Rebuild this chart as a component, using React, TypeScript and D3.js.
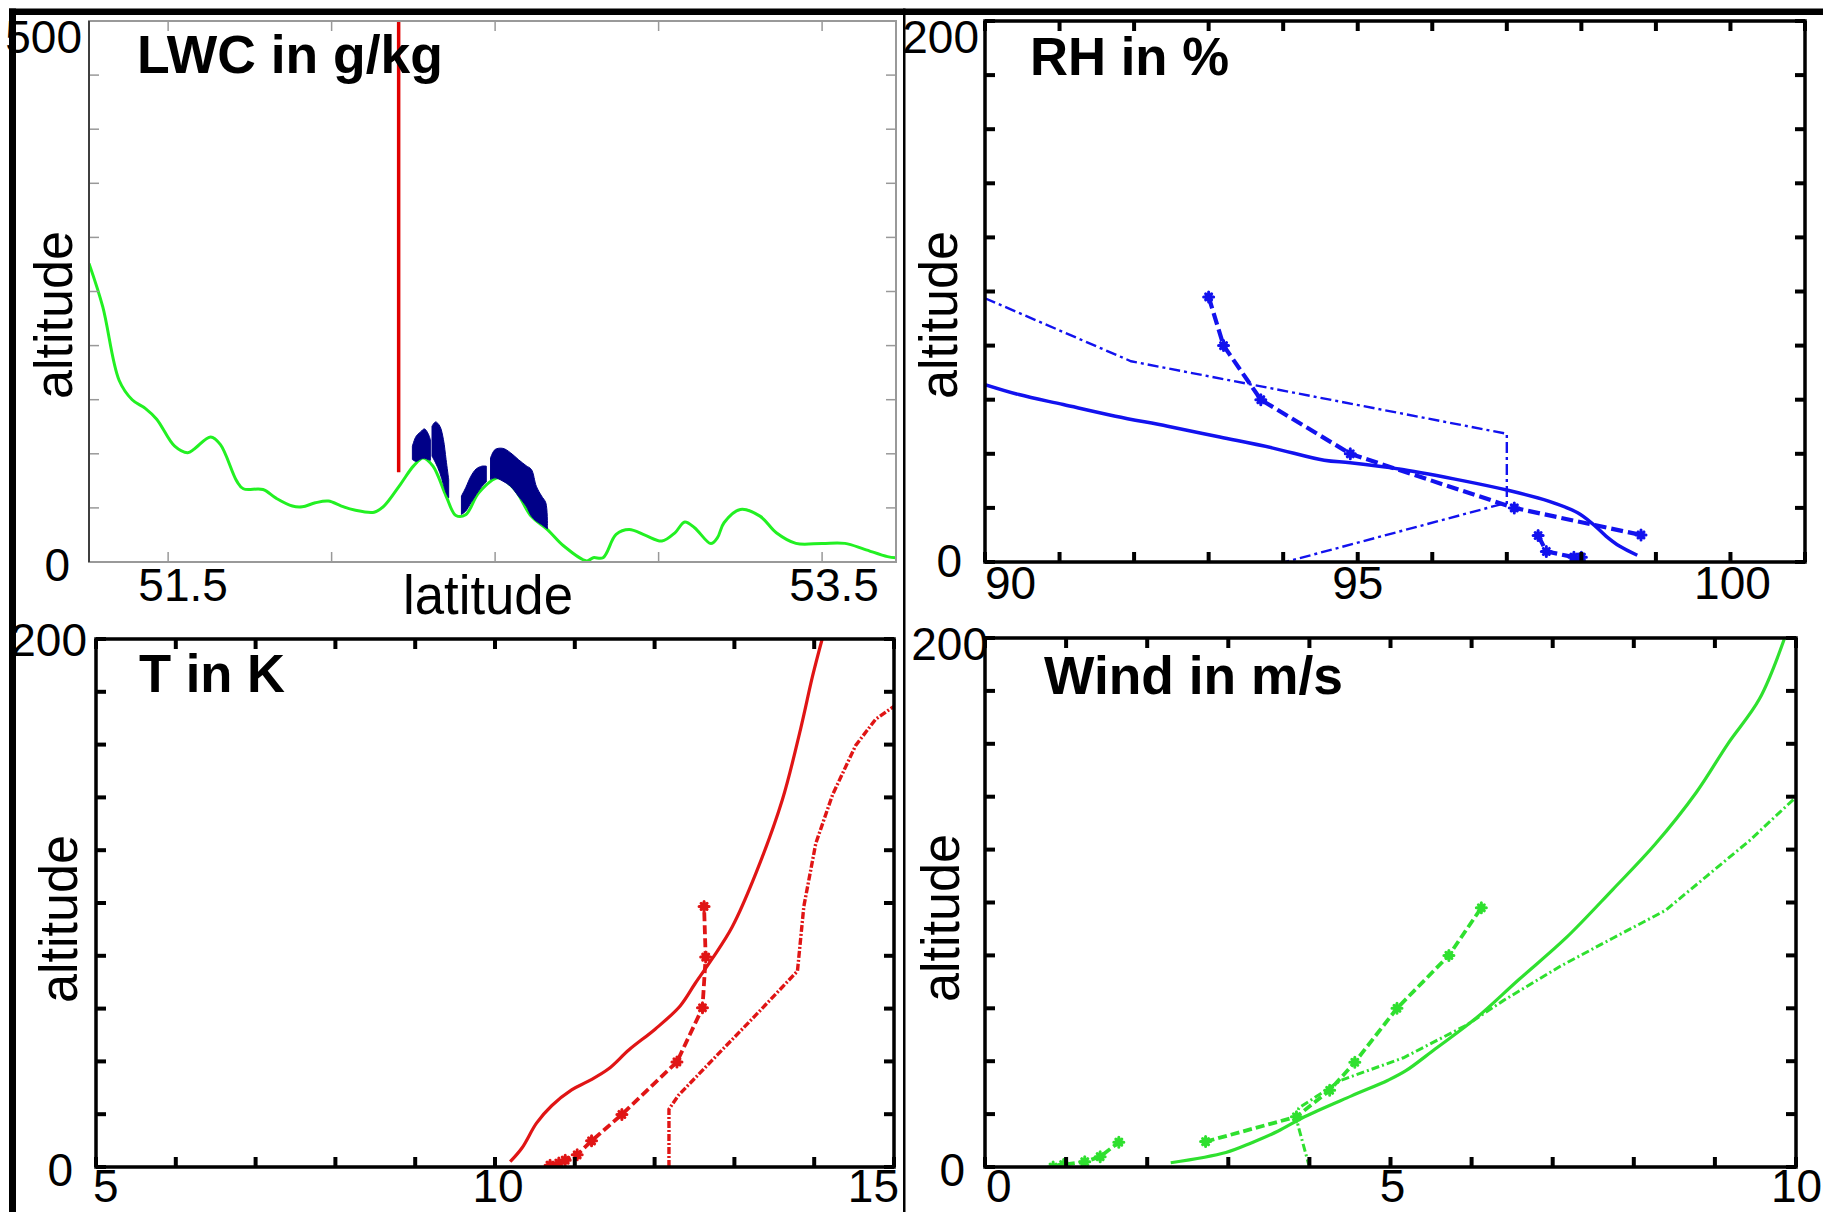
import React from 'react';
import * as d3 from 'd3';

// ---------- Panel 1: LWC cross-section ----------
const latTerrain = [51.258, 51.30, 51.35, 51.39, 51.43, 51.465, 51.52, 51.56, 51.58, 51.63, 51.66, 51.71, 51.73, 51.79, 51.83, 51.88, 51.91, 51.95, 51.99, 52.03, 52.07, 52.13, 52.16, 52.21, 52.25, 52.28, 52.31, 52.35, 52.38, 52.41, 52.45, 52.51, 52.56, 52.61, 52.66, 52.71, 52.78, 52.80, 52.83, 52.87, 52.91, 52.96, 53.01, 53.05, 53.08, 53.11, 53.16, 53.18, 53.20, 53.25, 53.31, 53.36, 53.42, 53.50, 53.57, 53.63, 53.70, 53.726];
const altTerrain = [276, 236, 168, 150, 142, 132, 107, 101, 104.5, 115.6, 108.5, 74.7, 67.7, 67, 59, 51.7, 51, 54.7, 56.3, 51.7, 48, 46, 51.7, 71.6, 88.6, 96.2, 88.6, 61, 43, 43.7, 64, 77.8, 67, 42.4, 30, 14.8, 1, 4, 4, 25.5, 30, 24.6, 19.4, 27, 37, 31.7, 17, 22.5, 36.3, 48.6, 42.4, 27, 17.2, 17.2, 17.2, 11.7, 5, 4];

const cloudLatA = [52.247, 52.258, 52.271, 52.284, 52.295, 52.302];
const cloudBaseA = [94.7, 93, 95, 96, 94.7, 94];
const cloudTopA = [107, 116, 120, 123, 118.7, 113];

const cloudLatB = [52.307, 52.318, 52.331, 52.342, 52.35, 52.358];
const cloudBaseB = [97.8, 91.6, 82.4, 71.6, 64, 59.3];
const cloudTopB = [125.5, 129.5, 125.5, 113, 94.7, 76.3];

const cloudLatC = [52.397, 52.41, 52.426, 52.442, 52.46, 52.473];
const cloudBaseC = [44, 47, 54.7, 62.4, 70, 74];
const cloudTopC = [61, 68.6, 79.3, 86, 88.6, 88.6];

const cloudLatD = [52.486, 52.50, 52.524, 52.547, 52.571, 52.595, 52.611, 52.626, 52.642, 52.655, 52.66];
const cloudBaseD = [76.3, 77.8, 74.7, 70, 61, 51.7, 42.4, 37.8, 34.7, 31.7, 30.7];
const cloudTopD = [96.2, 104, 105, 101, 94.7, 89, 85.5, 70, 61, 54.7, 33];

const redLineLat = 52.205;
const redLineAlt = [83, 500];

const latTicks = [51.5, 52, 52.5, 53, 53.5];
const latLabels = ['51.5', '53.5'];
const lwcAltTicks = [0, 50, 100, 150, 200, 250, 300, 350, 400, 450, 500];

// ---------- Panel 2: RH ----------
const rhSolidX = [90, 90.455, 91.05, 91.75, 92.45, 93.15, 93.85, 94.55, 94.9, 95.6, 96.44, 97.0, 97.56, 97.95, 98.16, 98.33, 98.51, 98.75];
const rhSolidAlt = [65.6, 61.9, 58.2, 53.9, 50.2, 46.2, 42.2, 37.6, 36.7, 34.2, 29.9, 26.6, 22.5, 18.2, 13.9, 9.6, 5.9, 2.5];
const rhDashDotX = [90, 91.96, 97.0, 97.0, 94.03];
const rhDashDotAlt = [97.5, 74.2, 47.4, 21.9, 0];
const rhDashedHighX = [93.0, 93.2, 93.7, 94.9, 97.1, 98.8];
const rhDashedHighAlt = [98, 80, 60, 40, 20, 10];
const rhDashedLowX = [97.42, 97.53, 97.9, 98.0];
const rhDashedLowAlt = [9.8, 3.9, 1.8, 1.8];
const rhTicks = [90, 91, 92, 93, 94, 95, 96, 97, 98, 99, 100, 101];

// ---------- Panel 3: T ----------
const tSolidX = [10.19, 10.34, 10.52, 10.71, 10.96, 11.17, 11.42, 11.68, 12.01, 12.32, 12.51, 12.72, 12.97, 13.27, 13.60, 13.83, 13.98, 14.10];
const tSolidAlt = [2, 7.3, 16.6, 23.2, 29.2, 32.5, 37.1, 44.4, 52.3, 61, 69.6, 78.8, 90.8, 111.3, 139, 166, 186, 200];
const tDashedX = [10.69, 10.80, 10.88, 11.03, 11.21, 11.59, 12.28, 12.60, 12.64, 12.62];
const tDashedAlt = [0.7, 1.5, 2.6, 4.6, 9.9, 19.9, 39.8, 60.3, 79.5, 98.7];
const tDashDotX = [12.18, 12.18, 12.30, 12.72, 13.27, 13.79, 13.87, 14.02, 14.23, 14.52, 14.77, 15.0];
const tDashDotAlt = [0, 21.9, 27.2, 40.4, 57.6, 74.2, 98.7, 122.6, 141, 159.7, 169.6, 174.5];
const tTicks = [5, 6, 7, 8, 9, 10, 11, 12, 13, 14, 15];

// ---------- Panel 4: Wind ----------
const wSolidX = [2.29, 2.97, 3.29, 3.61, 3.94, 4.52, 4.97, 5.19, 5.55, 6.06, 6.58, 7.16, 7.74, 8.26, 8.77, 9.16, 9.55, 9.86];
const wSolidAlt = [1.6, 5.5, 9.2, 13.5, 19, 26.9, 32.8, 36.4, 44.6, 56.4, 70.8, 86.5, 104.9, 121.9, 141.6, 160, 177, 200];
const wDashDotX = [4.0, 3.86, 3.84, 3.87, 4.39, 5.16, 5.94, 6.39, 7.10, 7.74, 8.39, 8.90, 9.42, 9.97];
const wDashDotAlt = [0, 15.7, 19, 22.3, 32.8, 41.3, 53.7, 62.9, 76, 86.5, 97, 110, 123.2, 139];
const wDashedLowX = [0.84, 0.97, 1.23, 1.42, 1.65];
const wDashedLowAlt = [0, 0.9, 2, 3.9, 9.4];
const wDashedHighX = [2.72, 3.84, 4.25, 4.56, 5.08, 5.72, 6.12];
const wDashedHighAlt = [9.6, 19, 29, 39.6, 60, 80, 98];
const wTicks = [0, 1, 2, 3, 4, 5, 6, 7, 8, 9, 10];

const profileAltTicks = [0, 20, 40, 60, 80, 100, 120, 140, 160, 180, 200];

// ---------- scales ----------
const p1x = d3.scaleLinear().domain([51.258, 53.726]).range([89, 896]);
const p1y = d3.scaleLinear().domain([0, 500]).range([562, 21]);
const p2x = d3.scaleLinear().domain([90, 101]).range([985, 1805]);
const p2y = d3.scaleLinear().domain([0, 200]).range([562, 21]);
const p3x = d3.scaleLinear().domain([5, 15]).range([96, 894]);
const p3y = d3.scaleLinear().domain([0, 200]).range([1167, 639]);
const p4x = d3.scaleLinear().domain([0, 10]).range([985, 1796]);
const p4y = d3.scaleLinear().domain([0, 200]).range([1167, 638]);

const FONT = '"Liberation Sans", Arial, Helvetica, sans-serif';
const BLUE = '#1212ee';
const RED = '#e01515';
const GREEN = '#2fe02f';
const TERRAIN = '#22f022';
const NAVY = '#000088';

type XY = [number, number];
const zipXY = (a: number[], b: number[]): XY[] => a.map((v, i) => [v, b[i]] as XY);

function lineFor(xs: d3.ScaleLinear<number, number>, ys: d3.ScaleLinear<number, number>, curve: d3.CurveFactory = d3.curveLinear) {
  return d3.line<XY>().x(d => xs(d[0])).y(d => ys(d[1])).curve(curve);
}

function Frame({ xs, ys, xTicks, yTicks, stroke, width, tickW, len }: any) {
  const [x0, x1] = xs.range();
  const [y0, y1] = ys.range(); // y0 bottom, y1 top
  return (
    <g>
      {xTicks.map((t: number, i: number) => (
        <g key={'x' + i}>
          <line x1={xs(t)} x2={xs(t)} y1={y0} y2={y0 - len} stroke={stroke} strokeWidth={tickW} />
          <line x1={xs(t)} x2={xs(t)} y1={y1} y2={y1 + len} stroke={stroke} strokeWidth={tickW} />
        </g>
      ))}
      {yTicks.map((t: number, i: number) => (
        <g key={'y' + i}>
          <line x1={x0} x2={x0 + len} y1={ys(t)} y2={ys(t)} stroke={stroke} strokeWidth={tickW} />
          <line x1={x1} x2={x1 - len} y1={ys(t)} y2={ys(t)} stroke={stroke} strokeWidth={tickW} />
        </g>
      ))}
      <rect x={x0} y={y1} width={x1 - x0} height={y0 - y1} fill="none" stroke={stroke} strokeWidth={width} />
    </g>
  );
}

function Markers({ pts, xs, ys, color }: any) {
  return (
    <g stroke={color} strokeWidth={3} strokeLinecap="round">
      {pts.map((d: XY, i: number) => {
        const cx = xs(d[0]);
        const cy = ys(d[1]);
        return (
          <path key={i} d={`M${cx - 5},${cy}H${cx + 5}M${cx},${cy - 5}V${cy + 5}M${cx - 3},${cy - 3}L${cx + 3},${cy + 3}M${cx - 3},${cy + 3}L${cx + 3},${cy - 3}`} />
        );
      })}
    </g>
  );
}

function Label({ x, y, text, anchor = 'middle', size = 46, weight = 'normal', len }: any) {
  return (
    <text x={x} y={y} textAnchor={anchor} fontSize={size} fontWeight={weight} fontFamily={FONT} fill="#000"
      {...(len ? { textLength: len, lengthAdjust: 'spacingAndGlyphs' } : {})}>{text}</text>
  );
}

function AltLabel({ x, y }: any) {
  return (
    <text transform={`translate(${x},${y}) rotate(-90)`} textAnchor="middle" fontSize={53} fontFamily={FONT} fill="#000"
      textLength={168} lengthAdjust="spacingAndGlyphs">altitude</text>
  );
}

export default function App() {
  const terrain = zipXY(latTerrain, altTerrain);
  const terrainLine = lineFor(p1x, p1y, d3.curveCatmullRom.alpha(0.5));
  const cloudArea = d3.area<[number, number, number]>()
    .x(d => p1x(d[0])).y0(d => p1y(d[1])).y1(d => p1y(d[2])).curve(d3.curveCatmullRom.alpha(0.5));
  const clouds = [
    [cloudLatA, cloudBaseA, cloudTopA],
    [cloudLatB, cloudBaseB, cloudTopB],
    [cloudLatC, cloudBaseC, cloudTopC],
    [cloudLatD, cloudBaseD, cloudTopD],
  ].map(([la, b, t]) => la.map((v, i) => [v, b[i], t[i]] as [number, number, number]));

  const l2 = lineFor(p2x, p2y);
  const l2c = lineFor(p2x, p2y, d3.curveCatmullRom.alpha(0.5));
  const l3 = lineFor(p3x, p3y);
  const l3c = lineFor(p3x, p3y, d3.curveCatmullRom.alpha(0.5));
  const l4 = lineFor(p4x, p4y);
  const l4c = lineFor(p4x, p4y, d3.curveCatmullRom.alpha(0.5));

  const rhHigh = zipXY(rhDashedHighX, rhDashedHighAlt);
  const rhLow = zipXY(rhDashedLowX, rhDashedLowAlt);
  const tDash = zipXY(tDashedX, tDashedAlt);
  const wLow = zipXY(wDashedLowX, wDashedLowAlt);
  const wHigh = zipXY(wDashedHighX, wDashedHighAlt);

  const clip = (id: string, xs: any, ys: any) => {
    const [x0, x1] = xs.range();
    const [y0, y1] = ys.range();
    return (
      <clipPath id={id}>
        <rect x={x0} y={y1} width={x1 - x0} height={y0 - y1} />
      </clipPath>
    );
  };

  return (
    <svg width={1823} height={1212} viewBox="0 0 1823 1212"
      style={{ position: 'absolute', left: 0, top: 0, background: '#fff', display: 'block' }}>
      <defs>
        {clip('c1', p1x, p1y)}
        {clip('c2', p2x, p2y)}
        {clip('c3', p3x, p3y)}
        {clip('c4', p4x, p4y)}
      </defs>
      <rect x={0} y={0} width={1823} height={1212} fill="#fff" />

      {/* ---------- Panel 1 ---------- */}
      <g clipPath="url(#c1)">
        <path d={terrainLine(terrain) || ''} fill="none" stroke={TERRAIN} strokeWidth={3} />
        {clouds.map((c, i) => (
          <path key={i} d={cloudArea(c) || ''} fill={NAVY} stroke={NAVY} strokeWidth={1} />
        ))}
        <line x1={p1x(redLineLat)} x2={p1x(redLineLat)} y1={p1y(redLineAlt[0])} y2={p1y(redLineAlt[1])} stroke="#e00000" strokeWidth={3.5} />
      </g>
      <Frame xs={p1x} ys={p1y} xTicks={latTicks} yTicks={lwcAltTicks} stroke="#999" width={2} tickW={1.5} len={10} />
      <line x1={89} x2={89} y1={21} y2={562} stroke="#222" strokeWidth={1.5} />
      <Label x={137} y={73} text="LWC in g/kg" anchor="start" size={54} weight="bold" len={306} />
      <Label x={82} y={53} text="500" anchor="end" />
      <Label x={70} y={581} text="0" anchor="end" />
      <Label x={p1x(+latLabels[0]) + 15} y={601} text={latLabels[0]} />
      <Label x={p1x(+latLabels[1]) + 12} y={601} text={latLabels[1]} />
      <Label x={488} y={614} text="latitude" size={55} len={170} />
      <AltLabel x={72} y={315} />

      {/* ---------- Panel 2 ---------- */}
      <g clipPath="url(#c2)">
        <path d={l2c(zipXY(rhSolidX, rhSolidAlt)) || ''} fill="none" stroke={BLUE} strokeWidth={3.5} />
        <path d={l2(zipXY(rhDashDotX, rhDashDotAlt)) || ''} fill="none" stroke={BLUE} strokeWidth={2.4} strokeDasharray="11,4,3,4" />
        <path d={l2(rhHigh) || ''} fill="none" stroke={BLUE} strokeWidth={4.2} strokeDasharray="12,5" />
        <path d={l2(rhLow) || ''} fill="none" stroke={BLUE} strokeWidth={4.2} strokeDasharray="12,5" />
        <Markers pts={rhHigh} xs={p2x} ys={p2y} color={BLUE} />
        <Markers pts={rhLow} xs={p2x} ys={p2y} color={BLUE} />
      </g>
      <Frame xs={p2x} ys={p2y} xTicks={rhTicks} yTicks={profileAltTicks} stroke="#000" width={3.5} tickW={4} len={10} />
      <Label x={1030} y={75} text="RH in %" anchor="start" size={54} weight="bold" len={199} />
      <Label x={979} y={53} text="200" anchor="end" />
      <Label x={962} y={577} text="0" anchor="end" />
      <Label x={p2x(90)} y={599} text="90" anchor="start" />
      <Label x={p2x(95)} y={599} text="95" />
      <Label x={p2x(100) + 2} y={599} text="100" />
      <AltLabel x={957} y={315} />

      {/* ---------- Panel 3 ---------- */}
      <g clipPath="url(#c3)">
        <path d={l3c(zipXY(tSolidX, tSolidAlt)) || ''} fill="none" stroke={RED} strokeWidth={3.2} />
        <path d={l3(zipXY(tDashDotX, tDashDotAlt)) || ''} fill="none" stroke={RED} strokeWidth={3.4} strokeDasharray="7,2,2,2" />
        <path d={l3(tDash) || ''} fill="none" stroke={RED} strokeWidth={3.8} strokeDasharray="9,4" />
        <Markers pts={tDash} xs={p3x} ys={p3y} color={RED} />
      </g>
      <Frame xs={p3x} ys={p3y} xTicks={tTicks} yTicks={profileAltTicks} stroke="#000" width={3.5} tickW={4} len={10} />
      <Label x={139} y={692} text="T in K" anchor="start" size={54} weight="bold" len={146} />
      <Label x={87} y={656} text="200" anchor="end" />
      <Label x={73} y={1186} text="0" anchor="end" />
      <Label x={93} y={1202} text="5" anchor="start" />
      <Label x={p3x(10) + 3} y={1202} text="10" />
      <Label x={899} y={1202} text="15" anchor="end" />
      <AltLabel x={77} y={919} />

      {/* ---------- Panel 4 ---------- */}
      <g clipPath="url(#c4)">
        <path d={l4c(zipXY(wSolidX, wSolidAlt)) || ''} fill="none" stroke={GREEN} strokeWidth={3.2} />
        <path d={l4(zipXY(wDashDotX, wDashDotAlt)) || ''} fill="none" stroke={GREEN} strokeWidth={3} strokeDasharray="8,3,2,3" />
        <path d={l4(wLow) || ''} fill="none" stroke={GREEN} strokeWidth={3.8} strokeDasharray="9,4" />
        <path d={l4(wHigh) || ''} fill="none" stroke={GREEN} strokeWidth={3.8} strokeDasharray="9,4" />
        <Markers pts={wLow} xs={p4x} ys={p4y} color={GREEN} />
        <Markers pts={wHigh} xs={p4x} ys={p4y} color={GREEN} />
      </g>
      <Frame xs={p4x} ys={p4y} xTicks={wTicks} yTicks={profileAltTicks} stroke="#000" width={3.5} tickW={4} len={10} />
      <Label x={1044} y={694} text="Wind in m/s" anchor="start" size={54} weight="bold" len={299} />
      <Label x={988} y={660} text="200" anchor="end" />
      <Label x={965} y={1186} text="0" anchor="end" />
      <Label x={986} y={1202} text="0" anchor="start" />
      <Label x={p4x(5) + 2} y={1202} text="5" />
      <Label x={1771} y={1202} text="10" anchor="start" />
      <AltLabel x={959} y={918} />

      {/* ---------- outer borders ---------- */}
      <rect x={9} y={8.5} width={1814} height={6.5} fill="#000" />
      <rect x={9} y={8.5} width={7} height={1204} fill="#000" />
      <rect x={903} y={8.5} width={2.5} height={1204} fill="#000" />
    </svg>
  );
}
